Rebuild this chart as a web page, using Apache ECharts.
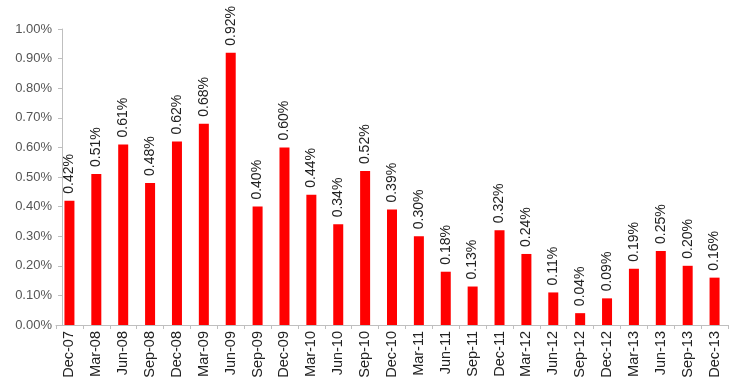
<!DOCTYPE html>
<html><head><meta charset="utf-8">
<script src="https://cdn.jsdelivr.net/npm/echarts@6/dist/echarts.min.js"></script>
<style>html,body{margin:0;padding:0;background:#fff}#c{width:729px;height:391px}</style>
</head><body><div id="c"></div>
<script>
const categories = ["Dec-07","Mar-08","Jun-08","Sep-08","Dec-08","Mar-09","Jun-09","Sep-09","Dec-09","Mar-10","Jun-10","Sep-10","Dec-10","Mar-11","Jun-11","Sep-11","Dec-11","Mar-12","Jun-12","Sep-12","Dec-12","Mar-13","Jun-13","Sep-13","Dec-13"];
const values = [0.42,0.51,0.61,0.48,0.62,0.68,0.92,0.40,0.60,0.44,0.34,0.52,0.39,0.30,0.18,0.13,0.32,0.24,0.11,0.04,0.09,0.19,0.25,0.20,0.16];
const yTicks = [0,0.1,0.2,0.3,0.4,0.5,0.6,0.7,0.8,0.9,1.0];

const chart = echarts.init(document.getElementById('c'), null, {renderer:'canvas'});
chart.setOption({
  animation:false,
  grid:{left:56,right:1,top:29,bottom:66,containLabel:false},
  xAxis:{type:'category',data:categories,boundaryGap:true,
    axisLine:{lineStyle:{color:'#bfbfbf'}},
    axisTick:{show:true,length:4,lineStyle:{color:'#bfbfbf'}},
    axisLabel:{rotate:90,color:'#222',fontFamily:'Liberation Sans, Arial',fontSize:14.5,margin:6}},
  yAxis:{type:'value',min:0,max:1.0,interval:0.1,offset:-6,
    axisLine:{show:true,lineStyle:{color:'#bfbfbf'}},
    axisTick:{show:true,length:4,lineStyle:{color:'#bfbfbf'}},
    splitLine:{show:false},
    axisLabel:{color:'#555',fontFamily:'Liberation Sans, Arial',fontSize:13,margin:10,
      formatter:v=>v.toFixed(2)+'%'}},
  series:[{type:'bar',data:values,barWidth:10,
    itemStyle:{color:'#ff0000'},
    label:{show:true,position:'top',rotate:90,align:'left',verticalAlign:'middle',distance:7,
      color:'#222',fontFamily:'Liberation Sans, Arial',fontSize:14,
      formatter:p=>p.value.toFixed(2)+'%'}}]
});
</script></body></html>
